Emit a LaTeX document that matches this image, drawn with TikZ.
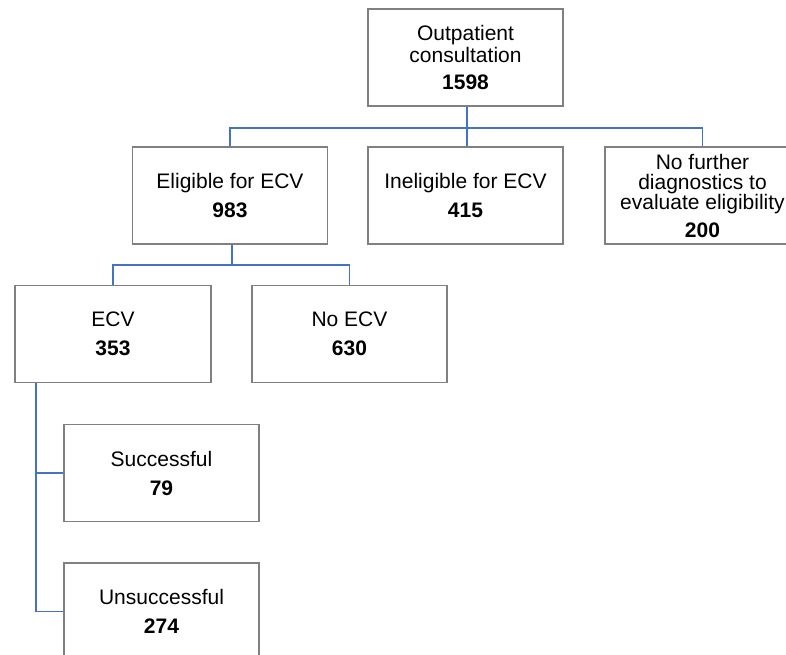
\documentclass[tikz,border=0pt]{standalone}
\usepackage{fontspec}
\setmainfont{Liberation Sans}
\usetikzlibrary{positioning,calc}

\definecolor{linkblue}{HTML}{4472C4}
\definecolor{boxgray}{HTML}{808080}

\tikzset{
	box/.style={draw=boxgray, line width=1.1pt, fill=white, minimum width=195pt, minimum height=97pt, align=center, font=\fontsize{21}{22}\selectfont, inner sep=0pt},
	link/.style={draw=linkblue, line width=1.4pt}
}

\begin{document}
\begin{tikzpicture}[x=1pt, y=-1pt]
	%Page frame%
	%===========================================================
	\useasboundingbox (0,0) rectangle (786,655);
	\clip (0,0) rectangle (786,655);

	%Boxes%
	%===========================================================
	\node[box] (outpat) at (465.5,57.5) {Outpatient\\consultation\\[5pt]\textbf{1598}};
	\node[box] (elig) at (230,195.5) {Eligible for ECV\\[7pt]\textbf{983}};
	\node[box] (inelig) at (465.5,195.5) {Ineligible for ECV\\[7pt]\textbf{415}};
	\node[box, font=\fontsize{21}{20}\selectfont] (nofurther) at (702.5,195.5) {No further\\diagnostics to\\evaluate eligibility\\[8pt]\textbf{200}};
	\node[box, minimum width=196pt] (ecv) at (113,334) {ECV\\[7pt]\textbf{353}};
	\node[box] (noecv) at (349.5,334) {No ECV\\[7pt]\textbf{630}};
	\node[box] (succ) at (161.5,473) {Successful\\[7pt]\textbf{79}};
	\node[box] (unsucc) at (161.5,611.5) {Unsuccessful\\[7pt]\textbf{274}};

	%Connectors%
	%===========================================================
	\coordinate (split1) at (467,128); %first branching
	\coordinate (split2) at (232,265); %second branching
	\coordinate (ecvout) at ($(ecv.south west)+(21.5,0)$); %stem of ECV outcomes

	\draw[link] (outpat.south -| split1) -- (split1);
	\draw[link] (split1) -| (elig.north);
	\draw[link] (split1) -- (inelig.north -| split1);
	\draw[link] (split1) -| (nofurther.north);

	\draw[link] (elig.south -| split2) -- (split2);
	\draw[link] (split2) -| (ecv.north);
	\draw[link] (split2) -| (noecv.north);

	\draw[link] (ecvout) |- (succ.west);
	\draw[link] (ecvout) |- (unsucc.west);
\end{tikzpicture}
\end{document}
